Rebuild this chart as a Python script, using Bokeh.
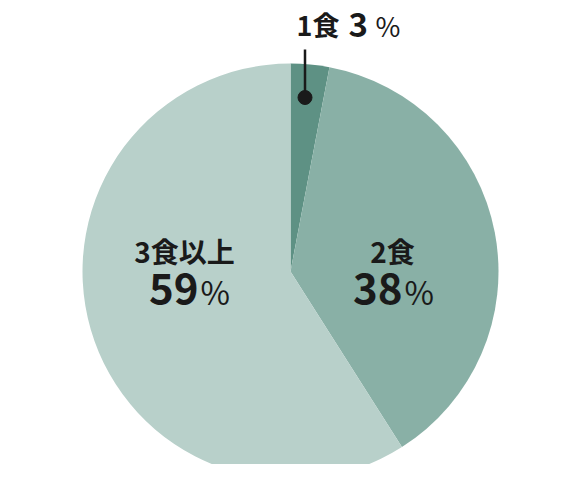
import numpy as np
from bokeh.plotting import figure
from bokeh.models import Range1d, ColumnDataSource
from bokeh.core.properties import value
from bokeh.embed import file_html
from bokeh.resources import INLINE

categories = ["1食", "2食", "3食以上"]
percents = [3, 38, 59]
colors = ["#5e9184", "#89b0a6", "#b8d0ca"]

W, H = 566, 464
p = figure(width=W, height=H, output_backend="svg", toolbar_location=None,
           x_range=Range1d(0, W), y_range=Range1d(0, H), min_border=0)
p.axis.visible = False
p.grid.visible = False
p.outline_line_color = None
p.background_fill_color = "white"

def sy(y):  # screenshot y -> data y
    return H - y

def sx(x):
    return x

cx, cy, r = sx(290), sy(271), 208
vals = np.array(percents, dtype=float)
cum = np.concatenate([[0], np.cumsum(vals)]) / vals.sum() * 2 * np.pi
starts = np.pi / 2 - cum[:-1]
ends = np.pi / 2 - cum[1:]
src = ColumnDataSource(dict(cat=categories, start=starts, end=ends, color=colors))
p.wedge(x=cx, y=cy, radius=r, radius_units="screen", start_angle="start", end_angle="end",
        direction="clock", fill_color="color", line_color=None, source=src)

FONT = value("Noto Sans CJK JP")
INK = "#1a1a1a"

# leader for 1食
p.segment(x0=sx(304.5), y0=sy(49), x1=sx(304.5), y1=sy(97), line_color=INK, line_width=2.5)
p.scatter(x=[sx(304.5)], y=[sy(97)], size=14, color=INK)

# top label
p.text(x=[sx(339)], y=[sy(24)], text=[categories[0]], text_font=FONT, text_font_style="bold",
       text_font_size="27px", text_align="right", text_baseline="middle", text_color=INK)
p.text(x=[sx(348)], y=[sy(24)], text=[str(percents[0])], text_font=FONT, text_font_style="bold",
       text_font_size="33px", text_align="left", text_baseline="middle", text_color=INK)
p.text(x=[sx(375)], y=[sy(25)], text=["%"], text_font=FONT, text_font_style="normal",
       text_font_size="27px", text_align="left", text_baseline="middle", text_color=INK)

# inner labels
for name, pct, xc, xsplit in [(categories[2], percents[2], 184, 198), (categories[1], percents[1], 392, 402)]:
    p.text(x=[sx(xc)], y=[sy(250)], text=[name], text_font=FONT, text_font_style="bold",
           text_font_size="28px", text_align="center", text_baseline="middle", text_color=INK)
    p.text(x=[sx(xsplit)], y=[sy(288)], text=[str(pct)], text_font=FONT, text_font_style="bold",
           text_font_size="42px", text_align="right", text_baseline="middle", text_color=INK)
    p.text(x=[sx(xsplit + 2)], y=[sy(290)], text=["%"], text_font=FONT, text_font_style="normal",
           text_font_size="32px", text_align="left", text_baseline="middle", text_color=INK)

open("out.html", "w").write(file_html(p, INLINE))
